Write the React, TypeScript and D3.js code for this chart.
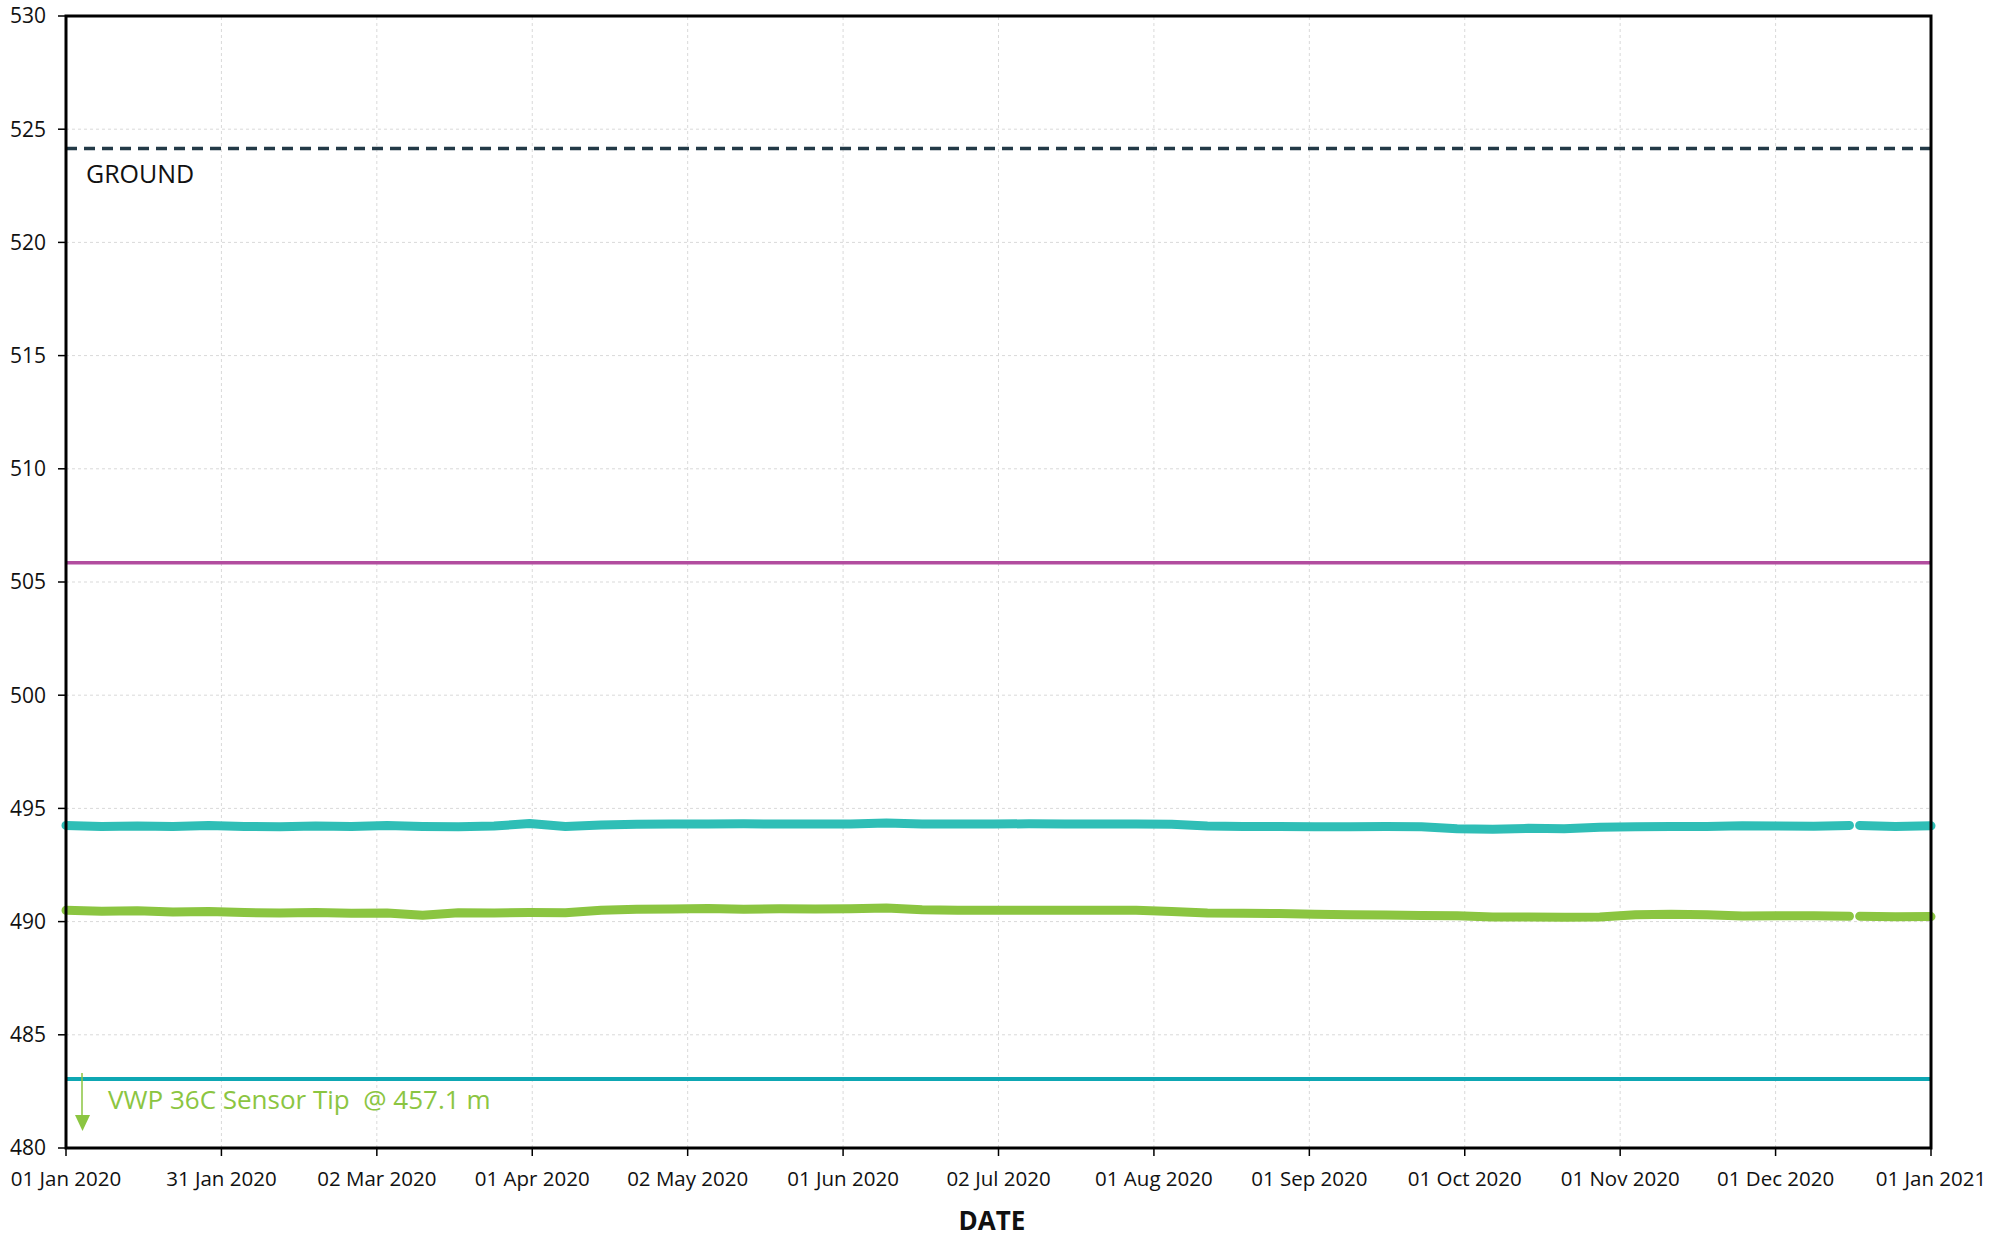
import React from "react";
import * as d3 from "d3";

const W = 2005;
const H = 1237;
const M = { left: 66, right: 74, top: 16, bottom: 89 };

const xDomain = ["2020-01-01", "2021-01-01"];
const yDomain = [480, 530];
const yTicks = [480, 485, 490, 495, 500, 505, 510, 515, 520, 525, 530];
const xTickDates = [
  "2020-01-01T00:00Z", "2020-01-31T12:00Z", "2020-03-02T00:00Z", "2020-04-01T12:00Z",
  "2020-05-02T00:00Z", "2020-06-01T12:00Z", "2020-07-02T00:00Z", "2020-08-01T12:00Z",
  "2020-09-01T00:00Z", "2020-10-01T12:00Z", "2020-11-01T00:00Z", "2020-12-01T12:00Z",
  "2021-01-01T00:00Z",
];

const sampleDates = [
  "2020-01-01", "2020-01-08", "2020-01-15", "2020-01-22", "2020-01-29",
  "2020-02-05", "2020-02-12", "2020-02-19", "2020-02-26",
  "2020-03-04", "2020-03-11", "2020-03-18", "2020-03-25",
  "2020-04-01", "2020-04-08", "2020-04-15", "2020-04-22", "2020-04-29",
  "2020-05-06", "2020-05-13", "2020-05-20", "2020-05-27",
  "2020-06-03", "2020-06-10", "2020-06-17", "2020-06-24",
  "2020-07-01", "2020-07-08", "2020-07-15", "2020-07-22", "2020-07-29",
  "2020-08-05", "2020-08-12", "2020-08-19", "2020-08-26",
  "2020-09-02", "2020-09-09", "2020-09-16", "2020-09-23", "2020-09-30",
  "2020-10-07", "2020-10-14", "2020-10-21", "2020-10-28",
  "2020-11-04", "2020-11-11", "2020-11-18", "2020-11-25",
  "2020-12-02", "2020-12-09", "2020-12-16", "2020-12-17", "2020-12-18", "2020-12-25",
  "2021-01-01",
];

const tealSeries: (number | null)[] = [
  494.25, 494.2, 494.22, 494.2, 494.24,
  494.2, 494.19, 494.22, 494.2,
  494.24, 494.2, 494.19, 494.22,
  494.33, 494.2, 494.27, 494.3, 494.31,
  494.31, 494.32, 494.31, 494.31,
  494.31, 494.35, 494.31, 494.31,
  494.31, 494.32, 494.31, 494.31, 494.31,
  494.3, 494.22, 494.2, 494.2,
  494.19, 494.19, 494.2, 494.19, 494.1,
  494.08, 494.12, 494.1, 494.17,
  494.19, 494.2, 494.2, 494.23,
  494.22, 494.21, 494.25, null, 494.25, 494.2,
  494.23,
];

const greenSeries: (number | null)[] = [
  490.5, 490.46, 490.48, 490.42, 490.45,
  490.4, 490.38, 490.4, 490.37,
  490.38, 490.28, 490.39, 490.38,
  490.4, 490.39, 490.5, 490.55, 490.56,
  490.58, 490.55, 490.57, 490.56,
  490.57, 490.6, 490.52, 490.5,
  490.5, 490.5, 490.5, 490.5, 490.5,
  490.45, 490.38, 490.37, 490.36,
  490.33, 490.3, 490.29, 490.27, 490.26,
  490.2, 490.2, 490.19, 490.2,
  490.3, 490.32, 490.3, 490.25,
  490.26, 490.26, 490.24, null, 490.24, 490.21,
  490.22,
];

const groundLevel = 524.15;
const purpleLevel = 505.85;
const sensorLevel = 483.05;
const groundLabel = "GROUND";
const sensorLabel = "VWP 36C Sensor Tip  @ 457.1 m";
const xTitle = "DATE";

const FONT = "'Open Sans', 'Noto Sans', sans-serif";

export default function App() {
  const x = d3
    .scaleUtc()
    .domain(xDomain.map((d) => new Date(d)))
    .range([M.left, W - M.right]);
  const y = d3.scaleLinear().domain(yDomain).range([H - M.bottom, M.top]);
  const fmt = d3.utcFormat("%d %b %Y");
  const dates = sampleDates.map((d) => new Date(d));

  const line = d3
    .line<number | null>()
    .defined((d) => d !== null)
    .x((_, i) => x(dates[i]))
    .y((d) => y(d as number));

  const x0 = M.left;
  const x1 = W - M.right;
  const y0 = H - M.bottom;
  const y1 = M.top;

  return (
    <svg
      width={W}
      height={H}
      style={{ position: "absolute", left: 0, top: 0, background: "#fff" }}
      fontFamily={FONT}
    >
      {/* grid */}
      {yTicks.map((t) => (
        <line key={"gy" + t} x1={x0} x2={x1} y1={y(t)} y2={y(t)} stroke="#d9d9d9" strokeWidth={1} strokeDasharray="3,3" />
      ))}
      {xTickDates.map((t) => (
        <line key={"gx" + t} x1={x(new Date(t))} x2={x(new Date(t))} y1={y0} y2={y1} stroke="#d9d9d9" strokeWidth={1} strokeDasharray="3,3" />
      ))}

      {/* reference lines */}
      <line x1={x0} x2={x1} y1={y(groundLevel)} y2={y(groundLevel)} stroke="#233a47" strokeWidth={3.5} strokeDasharray="11,7" />
      <line x1={x0} x2={x1} y1={y(purpleLevel)} y2={y(purpleLevel)} stroke="#b24d9f" strokeWidth={3.5} />
      <line x1={x0} x2={x1} y1={y(sensorLevel)} y2={y(sensorLevel)} stroke="#0ea7b3" strokeWidth={4} />

      {/* series */}
      <path d={line(tealSeries) || ""} fill="none" stroke="#2fbeb6" strokeWidth={9} strokeLinecap="round" strokeLinejoin="round" />
      <path d={line(greenSeries) || ""} fill="none" stroke="#8bc541" strokeWidth={9} strokeLinecap="round" strokeLinejoin="round" />

      {/* labels */}
      <text x={86} y={183} fontSize={25} fill="#111">{groundLabel}</text>
      <line x1={82} x2={82} y1={1073} y2={1118} stroke="#8bc541" strokeWidth={1.5} />
      <path d={`M75,1115 L90,1115 L82.5,1131 Z`} fill="#8bc541" />
      <text x={108} y={1109} fontSize={26} fill="#8bc541" style={{ whiteSpace: "pre" }}>{sensorLabel}</text>

      {/* frame */}
      <rect x={x0} y={y1} width={x1 - x0} height={y0 - y1} fill="none" stroke="#000" strokeWidth={3} />

      {/* y axis */}
      {yTicks.map((t) => (
        <g key={"yt" + t}>
          <line x1={x0 - 8} x2={x0} y1={y(t)} y2={y(t)} stroke="#000" strokeWidth={1.5} />
          <text x={x0 - 20} y={y(t)} dy="0.35em" textAnchor="end" fontSize={21} fill="#111">{t}</text>
        </g>
      ))}

      {/* x axis */}
      {xTickDates.map((t) => {
        const d = new Date(t);
        return (
          <g key={"xt" + t}>
            <line x1={x(d)} x2={x(d)} y1={y0} y2={y0 + 8} stroke="#000" strokeWidth={1.5} />
            <text x={x(d)} y={y0 + 38} textAnchor="middle" fontSize={20.5} fill="#111">{fmt(d)}</text>
          </g>
        );
      })}
      <text x={992} y={1230} textAnchor="middle" fontSize={26} fontWeight="bold" fill="#111">{xTitle}</text>
    </svg>
  );
}
